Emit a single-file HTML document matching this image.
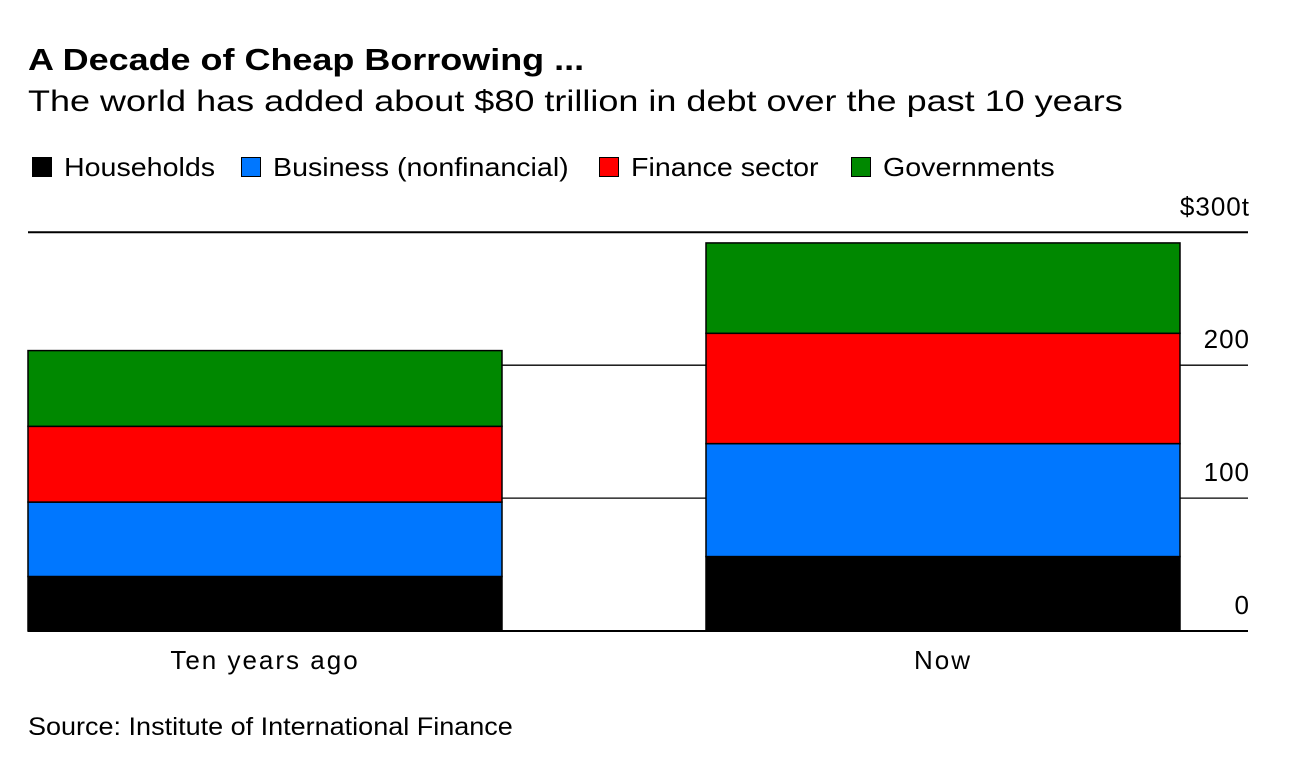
<!DOCTYPE html>
<html><head><meta charset="utf-8"><style>
body{margin:0;background:#fff;font-family:"Liberation Sans",sans-serif;}
#wrap{position:relative;width:1296px;height:768px;overflow:hidden;}
.t{position:absolute;white-space:nowrap;color:#000;transform-origin:left top;}
.leg{position:absolute;top:154px;height:26px;display:flex;align-items:center;font-size:26px;}
.leg span{display:inline-block;transform:scaleX(1.1);transform-origin:left center;}
.sw{width:20px;height:20px;border:1.5px solid #000;margin-right:12px;box-sizing:border-box;}
</style></head><body>
<div id="wrap">
<div class="t" style="left:28px;top:42px;font-size:31px;font-weight:bold;transform:scaleX(1.16);">A Decade of Cheap Borrowing ...</div>
<div class="t" style="left:28px;top:85px;font-size:30px;transform:scaleX(1.2);">The world has added about $80 trillion in debt over the past 10 years</div>
<div class="leg" style="left:32px;"><div class="sw" style="background:#000"></div><span>Households</span></div>
<div class="leg" style="left:241px;"><div class="sw" style="background:#0077ff"></div><span>Business (nonfinancial)</span></div>
<div class="leg" style="left:599px;"><div class="sw" style="background:#ff0000"></div><span>Finance sector</span></div>
<div class="leg" style="left:851px;"><div class="sw" style="background:#008800"></div><span>Governments</span></div>
<svg id="plot" width="1296" height="768" style="position:absolute;left:0;top:0"></svg>
<div class="t" style="left:28px;top:713px;font-size:25px;transform:scaleX(1.08);">Source: Institute of International Finance</div>
</div>
<script>
const categories=["Ten years ago","Now"];
const households=[41,56];
const business=[56,85];
const finance=[57,83];
const governments=[57,68];
const ticks=[0,100,200,300];
const tickLabels=["0","100","200","$300t"];
const colors=["#000000","#0077ff","#ff0000","#008800"];
const series=[households,business,finance,governments];
const seriesNames=["households","business","finance","governments"];
const svg=document.getElementById('plot');
const NS="http://www.w3.org/2000/svg";
const y0=631,pxPer=132.9/100;
function y(v){return y0-v*pxPer;}
const barX=[28,706],barW=474;
function mk(tag,a){const e=document.createElementNS(NS,tag);for(const k in a)e.setAttribute(k,a[k]);svg.appendChild(e);return e;}
ticks.forEach((t,i)=>{
 const l=mk('line',{x1:28,x2:1248,y1:y(t),y2:y(t),stroke:'#000','stroke-width':t===0||t===300?2:1.3});
 
 
 const tx=mk('text',{x:1250,y:y(t)-17,'text-anchor':'end','font-size':26,'letter-spacing':1,'font-family':'Liberation Sans, sans-serif'});
 tx.textContent=tickLabels[i];
 
 
});
categories.forEach((c,ci)=>{
 let acc=0;
 series.forEach((s,si)=>{
  const v=s[ci];
  const r=mk('rect',{x:barX[ci],y:y(acc+v),width:barW,height:v*pxPer,fill:colors[si],stroke:'#000','stroke-width':1.5});
  
  
  acc+=v;
 });
 const tx=mk('text',{x:barX[ci]+barW/2,y:669,'text-anchor':'middle','font-size':26,'letter-spacing':2,'font-family':'Liberation Sans, sans-serif'});
 tx.textContent=c;
 
 
});
</script>
</body></html>
